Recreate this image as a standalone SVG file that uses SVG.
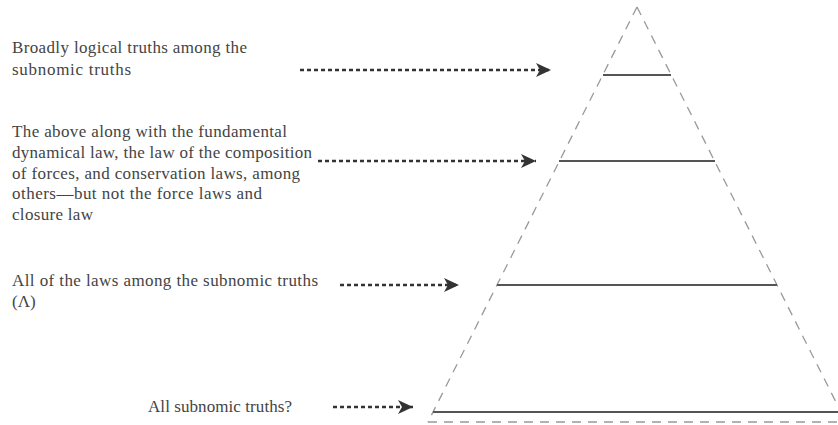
<svg xmlns="http://www.w3.org/2000/svg" width="838" height="425" viewBox="0 0 838 425">
<defs>
<marker id="ah" markerUnits="userSpaceOnUse" markerWidth="16" markerHeight="14" refX="15" refY="7" orient="auto">
<path d="M0,0 L15,7 L0,14 L4,7 z" fill="#333"/>
</marker>
<style>
.t{font-family:"Liberation Serif",serif;font-size:17px;fill:#444}
.side{stroke:#999;stroke-width:1.3;stroke-dasharray:9,7;fill:none}
.lvl{stroke:#555;stroke-width:2;fill:none}
.arr{stroke:#333;stroke-width:2.5;stroke-dasharray:4,3;fill:none}
</style>
</defs>
<rect width="838" height="425" fill="#fff"/>
<g id="pyramid">
<path class="side" d="M637,7 L428,422"/>
<path class="side" d="M637,7 L846,422"/>
<path class="side" d="M428,422 L838,422"/>
</g>
<g id="level1"><line class="lvl" x1="603" y1="75" x2="671" y2="75"/></g>
<g id="level2"><line class="lvl" x1="559" y1="161" x2="715" y2="161"/></g>
<g id="level3"><line class="lvl" x1="497" y1="285" x2="777" y2="285"/></g>
<g id="level4"><line class="lvl" x1="433" y1="412" x2="838" y2="412"/></g>
<g id="label1">
<text class="t" x="12" y="53" textLength="235" lengthAdjust="spacing">Broadly logical truths among the</text>
<text class="t" x="12" y="75" textLength="119" lengthAdjust="spacing">subnomic truths</text>
</g>
<g id="label2">
<text class="t" x="12" y="137" textLength="275" lengthAdjust="spacing">The above along with the fundamental</text>
<text class="t" x="12" y="158" textLength="300" lengthAdjust="spacing">dynamical law, the law of the composition</text>
<text class="t" x="12" y="179" textLength="288" lengthAdjust="spacing">of forces, and conservation laws, among</text>
<text class="t" x="12" y="199" textLength="250" lengthAdjust="spacing">others—but not the force laws and</text>
<text class="t" x="12" y="220" textLength="81" lengthAdjust="spacing">closure law</text>
</g>
<g id="label3">
<text class="t" x="12" y="286" textLength="306" lengthAdjust="spacing">All of the laws among the subnomic truths</text>
<text class="t" x="12" y="307">(Λ)</text>
</g>
<g id="label4">
<text class="t" x="148" y="412" textLength="144" lengthAdjust="spacing">All subnomic truths?</text>
</g>
<g id="connectors">
<line class="arr" x1="300" y1="70" x2="551" y2="70" marker-end="url(#ah)"/>
<line class="arr" x1="318" y1="161" x2="536" y2="161" marker-end="url(#ah)"/>
<line class="arr" x1="340" y1="285" x2="459" y2="285" marker-end="url(#ah)"/>
<line class="arr" x1="333" y1="407" x2="413" y2="407" marker-end="url(#ah)"/>
</g>
</svg>
